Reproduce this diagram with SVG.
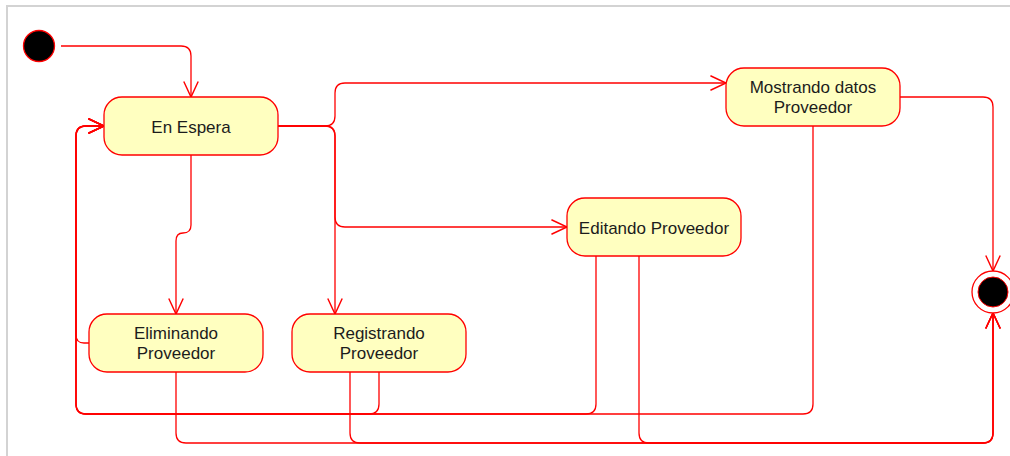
<svg xmlns="http://www.w3.org/2000/svg" width="1010" height="456" viewBox="0 0 1010 456">
  <style>
    .frame { fill: #ffffff; stroke: #d3d3d3; stroke-width: 2; }
    .state { fill: #ffffc0; stroke: #ff0000; stroke-width: 1.3; }
    .label { font-family: "Liberation Sans", Arial, sans-serif; font-size: 17px; fill: #1c1c1c; text-anchor: middle; }
    .edge { fill: none; stroke: #ff0000; stroke-width: 1.3; marker-end: url(#open-arrow); }
  </style>
  <defs>
    <marker id="open-arrow" markerUnits="userSpaceOnUse" markerWidth="20" markerHeight="20" viewBox="-16 -8 18 16" refX="0" refY="0" orient="auto">
      <path d="M-14,-6.5 L0,0 L-14,6.5" fill="none" stroke="#ff0000" stroke-width="1.3"/>
    </marker>
  </defs>

  <!-- canvas frame -->
  <rect class="frame" x="7" y="6" width="1020" height="470"/>

  <!-- transitions -->
  <g id="connectors">
    <path class="edge" d="M61,46 H181 Q191,46 191,56 V97"/>
    <path class="edge" d="M278,126 H325 Q335,126 335,116 V93 Q335,83 345,83 H726"/>
    <path class="edge" d="M278,126 H325 Q335,126 335,136 V217 Q335,227 345,227 H567"/>
    <path class="edge" d="M278,126 H325 Q335,126 335,136 V314"/>
    <path class="edge" d="M191,155 V225 Q191,233 183,233 Q176,233 176,241 V314"/>
    <path class="edge" d="M89,343 H84 Q76,343 76,335 V136 Q76,126 86,126 H104"/>
    <path class="edge" d="M379,372 V404 Q379,414 369,414 H86 Q76,414 76,404 V136 Q76,126 86,126 H104"/>
    <path class="edge" d="M596,256 V404 Q596,414 586,414 H86 Q76,414 76,404 V136 Q76,126 86,126 H104"/>
    <path class="edge" d="M813,126 V404 Q813,414 803,414 H86 Q76,414 76,404 V136 Q76,126 86,126 H104"/>
    <path class="edge" d="M900,97 H983 Q993,97 993,107 V271"/>
    <path class="edge" d="M176,372 V433 Q176,443 186,443 H983 Q993,443 993,433 V313"/>
    <path class="edge" d="M350,372 V433 Q350,443 360,443 H983 Q993,443 993,433 V313"/>
    <path class="edge" d="M639,256 V433 Q639,443 649,443 H983 Q993,443 993,433 V313"/>
  </g>

  <!-- initial pseudo-state -->
  <g id="initial">
    <circle cx="39" cy="46" r="15.5" fill="#000000" stroke="#ff0000" stroke-width="1.3"/>
  </g>

  <g id="en-espera">
    <rect class="state" x="104" y="97" width="174" height="58" rx="18"/>
    <text class="label" x="191" y="132.5">En Espera</text>
  </g>

  <g id="mostrando-datos">
    <rect class="state" x="726" y="68" width="174" height="58" rx="18"/>
    <text class="label" x="813" y="93">Mostrando datos</text>
    <text class="label" x="813" y="113">Proveedor</text>
  </g>

  <g id="editando">
    <rect class="state" x="567" y="198" width="174" height="58" rx="18"/>
    <text class="label" x="654" y="233.5">Editando Proveedor</text>
  </g>

  <g id="eliminando">
    <rect class="state" x="89" y="314" width="174" height="58" rx="18"/>
    <text class="label" x="176" y="339">Eliminando</text>
    <text class="label" x="176" y="359">Proveedor</text>
  </g>

  <g id="registrando">
    <rect class="state" x="292" y="314" width="174" height="58" rx="18"/>
    <text class="label" x="379" y="339">Registrando</text>
    <text class="label" x="379" y="359">Proveedor</text>
  </g>

  <!-- final state -->
  <g id="final">
    <circle cx="993" cy="292" r="21" fill="#ffffff" stroke="#ff0000" stroke-width="1.3"/>
    <circle cx="993" cy="292" r="15" fill="#000000" stroke="#ff0000" stroke-width="1"/>
  </g>
</svg>
